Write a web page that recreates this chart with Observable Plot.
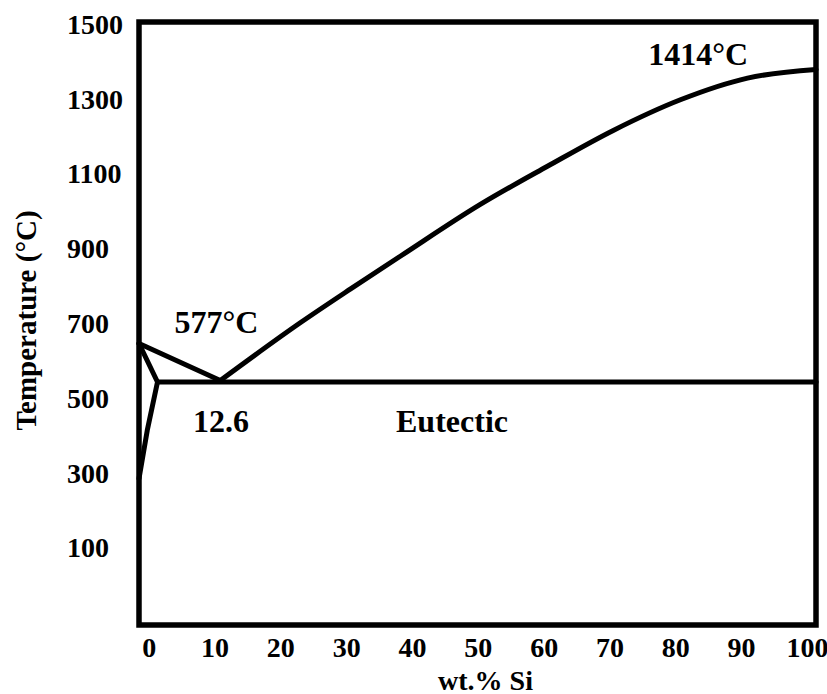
<!DOCTYPE html>
<html><head><meta charset="utf-8">
<script src="https://cdn.jsdelivr.net/npm/d3@7"></script>
<script src="https://cdn.jsdelivr.net/npm/@observablehq/plot@0.6"></script>
<style>body{margin:0;background:#fff}</style>
</head><body><div id="chart"></div>
<script>
const xTicks = [0, 10, 20, 30, 40, 50, 60, 70, 80, 90, 100];
const yTicks = [100, 300, 500, 700, 900, 1100, 1300, 1500];

const liquidusAlX = [-1.55, 10.8];
const liquidusAlT = [648, 549];
const liquidusSiX = [10.8, 23.0, 30.6, 38.2, 50.3, 60.5, 70.5, 80.7, 90.9, 101.3];
const liquidusSiT = [549, 704, 794, 882, 1020, 1122, 1218, 1300, 1358, 1381];
const solvusX = [-1.55, 1.26, -0.3, -1.55];
const solvusT = [648, 545, 415, 287];
const eutecticX = [1.26, 101.3];
const eutecticT = [545, 545];

const annText = ["1414°C", "577°C", "12.6", "Eutectic"];
const annX = [83.4, 10.2, 10.9, 46.0];
const annT = [1394, 677, 412, 411];

const pts = (xs, ts) => xs.map((x, i) => ({x, t: ts[i]}));
const anns = annText.map((s, i) => ({s, x: annX[i], t: annT[i]}));

const chart = Plot.plot({
  width: 827, height: 694,
  marginLeft: 138.5, marginRight: 11.5, marginTop: 21.5, marginBottom: 69.5,
  x: {domain: [-1.55, 101.3]},
  y: {domain: [-105, 1508]},
  style: {fontFamily: "'Liberation Serif', 'Times New Roman', serif", fontWeight: "bold", fontSize: "28px", background: "#fff", color: "#000"},
  marks: [
    Plot.axisX(xTicks, {tickSize: 0, tickPadding: 12.5, label: null, tickFormat: d => String(d)}),
    Plot.axisY(yTicks, {tickSize: 0, tickPadding: 0, textAnchor: "start", dx: -72, label: null, tickFormat: d => String(d)}),
    Plot.line(pts(liquidusAlX, liquidusAlT), {x: "x", y: "t", stroke: "#000", strokeWidth: 5}),
    Plot.line(pts(liquidusSiX, liquidusSiT), {x: "x", y: "t", stroke: "#000", strokeWidth: 5, curve: "monotone-x"}),
    Plot.line(pts(solvusX, solvusT), {x: "x", y: "t", stroke: "#000", strokeWidth: 5, strokeLinejoin: "miter"}),
    Plot.line(pts(eutecticX, eutecticT), {x: "x", y: "t", stroke: "#000", strokeWidth: 5}),
    Plot.frame({stroke: "#000", strokeWidth: 5.5}),
    Plot.text(anns, {x: "x", y: "t", text: "s", fontSize: 32, lineAnchor: "bottom", textAnchor: "middle"}),
    Plot.text(["Temperature (°C)"], {text: d => d, frameAnchor: "left", textAnchor: "middle", rotate: -90, dx: -103.5, dy: -3, lineAnchor: "bottom", fontSize: 29}),
    Plot.text(["wt.% Si"], {text: d => d, frameAnchor: "bottom", textAnchor: "middle", dx: 8, dy: 64.5, lineAnchor: "bottom", fontSize: 28})
  ]
});
document.getElementById("chart").appendChild(chart);
</script>
</body></html>
